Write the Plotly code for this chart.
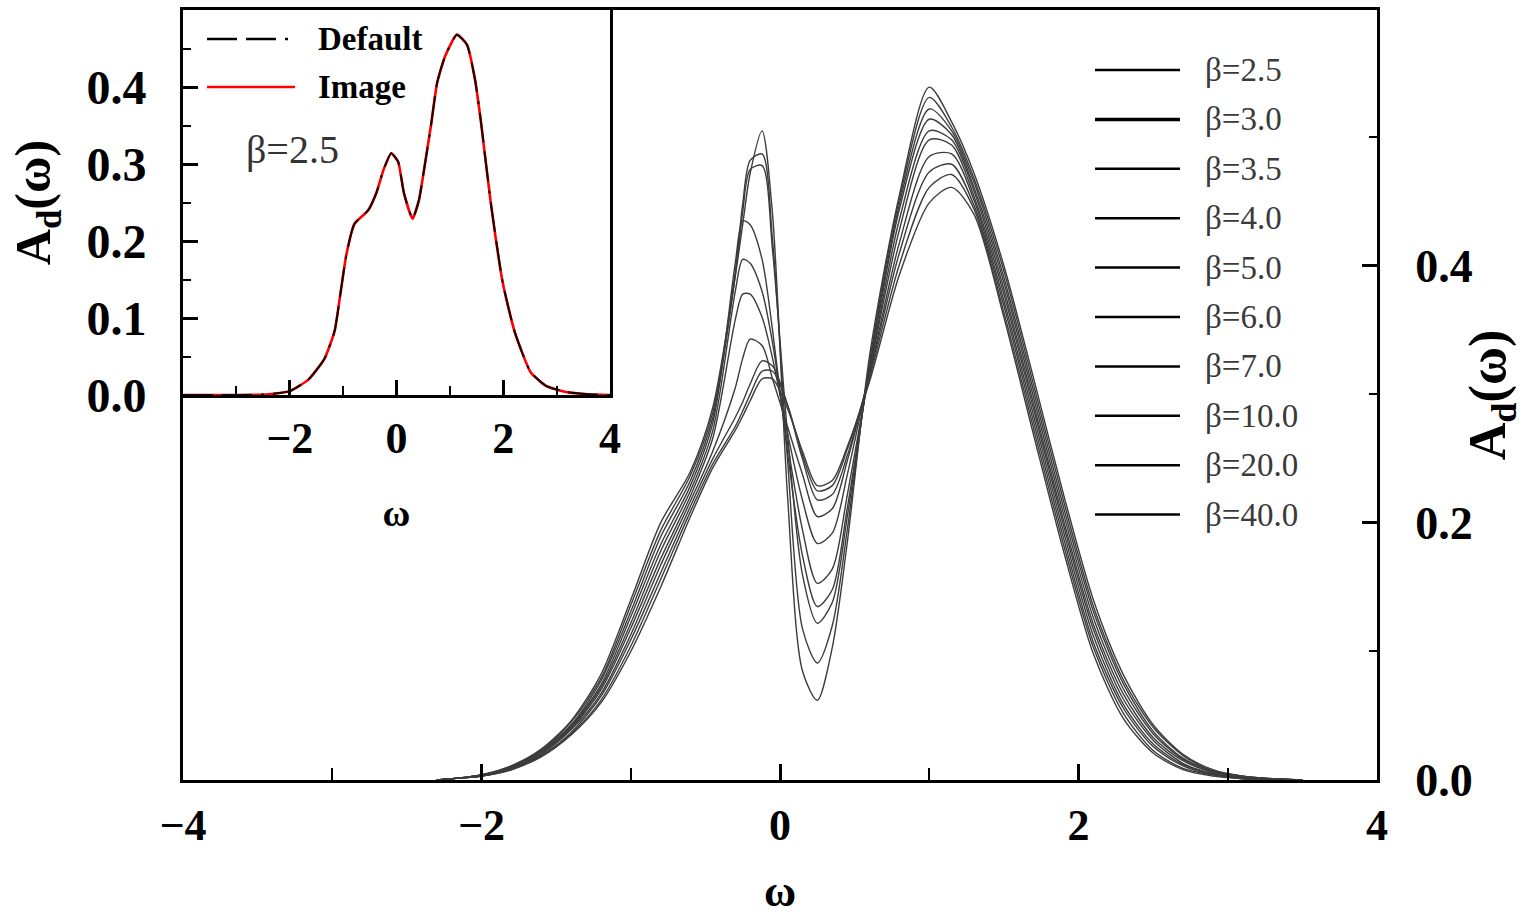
import plotly.graph_objects as go

# ---------------- data ----------------
omega = [-2.3, -2.2, -2.0, -1.8, -1.6, -1.4, -1.2, -1.0, -0.8, -0.6, -0.45, -0.3, -0.25, -0.2,
         -0.12, -0.05, 0.05, 0.15, 0.25, 0.35, 0.45, 0.6, 0.8, 1.0, 1.15, 1.3, 1.5, 1.7, 1.9,
         2.1, 2.3, 2.5, 2.7, 2.9, 3.1, 3.3, 3.5]

beta_labels = ["β=2.5", "β=3.0", "β=3.5", "β=4.0", "β=5.0", "β=6.0", "β=7.0",
               "β=10.0", "β=20.0", "β=40.0"]

A_b2_5 = [0.000, 0.001, 0.003, 0.008, 0.018, 0.035, 0.060, 0.100, 0.150, 0.205, 0.243, 0.272, 0.283, 0.295,
          0.312, 0.312, 0.289, 0.256, 0.229, 0.233, 0.259, 0.310, 0.393, 0.449, 0.461, 0.440, 0.360, 0.268, 0.178,
          0.098, 0.048, 0.021, 0.008, 0.003, 0.001, 0.000, 0.000]
A_b3_0 = [0.000, 0.001, 0.003, 0.008, 0.019, 0.036, 0.062, 0.104, 0.156, 0.209, 0.246, 0.275, 0.287, 0.300,
          0.318, 0.318, 0.292, 0.253, 0.225, 0.229, 0.257, 0.313, 0.401, 0.461, 0.471, 0.444, 0.364, 0.273, 0.183,
          0.103, 0.052, 0.023, 0.009, 0.004, 0.001, 0.000, 0.000]
A_b3_5 = [0.000, 0.001, 0.003, 0.009, 0.019, 0.037, 0.065, 0.109, 0.161, 0.213, 0.250, 0.282, 0.294, 0.308,
          0.326, 0.322, 0.292, 0.250, 0.218, 0.222, 0.252, 0.315, 0.410, 0.473, 0.479, 0.447, 0.369, 0.278, 0.188,
          0.107, 0.056, 0.026, 0.011, 0.004, 0.001, 0.000, 0.000]
A_b4_0 = [0.000, 0.001, 0.003, 0.009, 0.020, 0.039, 0.067, 0.113, 0.167, 0.217, 0.256, 0.305, 0.328, 0.343,
          0.338, 0.312, 0.275, 0.238, 0.205, 0.211, 0.248, 0.316, 0.418, 0.485, 0.487, 0.451, 0.373, 0.283, 0.193,
          0.112, 0.059, 0.028, 0.012, 0.005, 0.002, 0.000, 0.000]
A_b5_0 = [0.000, 0.001, 0.003, 0.009, 0.021, 0.040, 0.070, 0.118, 0.172, 0.221, 0.266, 0.358, 0.378, 0.378,
          0.360, 0.328, 0.270, 0.218, 0.184, 0.192, 0.237, 0.318, 0.428, 0.498, 0.494, 0.454, 0.378, 0.288, 0.198,
          0.117, 0.063, 0.031, 0.013, 0.005, 0.002, 0.000, 0.000]
A_b6_0 = [0.000, 0.001, 0.004, 0.010, 0.021, 0.041, 0.072, 0.122, 0.178, 0.225, 0.272, 0.380, 0.405, 0.402,
          0.380, 0.340, 0.262, 0.195, 0.153, 0.164, 0.221, 0.318, 0.436, 0.505, 0.498, 0.458, 0.382, 0.292, 0.202,
          0.121, 0.067, 0.033, 0.015, 0.006, 0.002, 0.001, 0.000]
A_b7_0 = [0.000, 0.001, 0.004, 0.010, 0.022, 0.042, 0.074, 0.127, 0.183, 0.229, 0.278, 0.402, 0.435, 0.432,
          0.405, 0.350, 0.255, 0.175, 0.135, 0.148, 0.211, 0.320, 0.444, 0.514, 0.502, 0.461, 0.387, 0.297, 0.207,
          0.126, 0.071, 0.036, 0.016, 0.006, 0.002, 0.001, 0.000]
A_b10_0 = [0.000, 0.001, 0.004, 0.010, 0.023, 0.043, 0.077, 0.131, 0.189, 0.233, 0.282, 0.392, 0.442, 0.475,
           0.478, 0.412, 0.270, 0.160, 0.122, 0.138, 0.204, 0.322, 0.448, 0.522, 0.505, 0.465, 0.391, 0.302, 0.212,
           0.131, 0.075, 0.038, 0.017, 0.007, 0.003, 0.001, 0.000]
A_b20_0 = [0.000, 0.001, 0.004, 0.011, 0.023, 0.045, 0.079, 0.136, 0.194, 0.237, 0.286, 0.395, 0.448, 0.482,
           0.487, 0.420, 0.250, 0.118, 0.091, 0.120, 0.194, 0.325, 0.452, 0.531, 0.508, 0.468, 0.396, 0.307, 0.217,
           0.135, 0.078, 0.041, 0.019, 0.007, 0.003, 0.001, 0.000]
A_b40_0 = [0.000, 0.001, 0.004, 0.011, 0.024, 0.046, 0.082, 0.140, 0.200, 0.240, 0.290, 0.392, 0.432, 0.472,
           0.505, 0.440, 0.222, 0.085, 0.062, 0.103, 0.184, 0.330, 0.455, 0.539, 0.512, 0.472, 0.400, 0.312, 0.222,
           0.140, 0.082, 0.043, 0.020, 0.008, 0.003, 0.001, 0.000]

main_series = [A_b2_5, A_b3_0, A_b3_5, A_b4_0, A_b5_0, A_b6_0, A_b7_0, A_b10_0, A_b20_0, A_b40_0]

# inset: beta = 2.5, Default model vs Image
inset_omega = [-4.0, -3.0, -2.4, -2.0, -1.65, -1.35, -1.16, -1.05, -0.94, -0.79, -0.53, -0.38, -0.24,
               -0.10, 0.03, 0.14, 0.30, 0.42, 0.54, 0.65, 0.76, 0.91, 1.13, 1.32, 1.47, 1.58, 1.76,
               1.99, 2.21, 2.51, 2.80, 3.17, 3.6, 4.0]
inset_default = [0.0, 0.0, 0.001, 0.005, 0.020, 0.047, 0.083, 0.132, 0.182, 0.222, 0.240, 0.262, 0.293,
                 0.314, 0.303, 0.262, 0.229, 0.253, 0.303, 0.352, 0.405, 0.440, 0.468, 0.455, 0.410, 0.356,
                 0.253, 0.146, 0.083, 0.030, 0.012, 0.004, 0.001, 0.0]
inset_image = list(inset_default)

main_xticks = [-4, -2, 0, 2, 4]
main_xticktext = ["−4", "−2", "0", "2", "4"]
main_yticks = [0.0, 0.2, 0.4]
inset_xticks = [-2, 0, 2, 4]
inset_xticktext = ["−2", "0", "2", "4"]
inset_yticks = [0.0, 0.1, 0.2, 0.3, 0.4]

# ---------------- figure ----------------
SERIF = "Liberation Serif, Times New Roman, serif"
W, H = 1524, 916
L, R, T, B = 183, 147, 10, 136
PW, PH = W - L - R, H - T - B
DEFAULT_DASH = "30px,9px,30px,9px,3px,9px"


def px_x(px):
    return (px - L) / PW


def px_y(py):
    return (H - B - py) / PH


fig = go.Figure()

for name, ys in zip(beta_labels, main_series):
    fig.add_trace(go.Scatter(x=omega, y=ys, mode="lines", name=name, showlegend=False,
                             line=dict(color="#3c3c3c", width=1.4, shape="spline", smoothing=0.8),
                             xaxis="x", yaxis="y"))

fig.add_trace(go.Scatter(x=inset_omega, y=inset_image, mode="lines", name="Image", showlegend=False,
                         line=dict(color="#ff0000", width=2.6, shape="spline", smoothing=0.5),
                         xaxis="x2", yaxis="y2"))
fig.add_trace(go.Scatter(x=inset_omega, y=inset_default, mode="lines", name="Default", showlegend=False,
                         line=dict(color="#1a0000", width=2.0, dash=DEFAULT_DASH, shape="spline", smoothing=0.5),
                         xaxis="x2", yaxis="y2"))

axis_common = dict(showgrid=False, zeroline=False, showline=True, linecolor="black", linewidth=3,
                   mirror=True, ticks="inside", tickcolor="black", tickwidth=2.5, automargin=False)

fig.update_layout(
    width=W, height=H,
    margin=dict(l=L, r=R, t=T, b=B, autoexpand=False),
    paper_bgcolor="white", plot_bgcolor="white",
    font=dict(family=SERIF, color="black"),
    xaxis=dict(**axis_common, domain=[0, 1], range=[-4, 4], tickvals=main_xticks,
               ticktext=main_xticktext, ticklen=16, anchor="y",
               tickfont=dict(size=44, family=SERIF, weight="bold"), ticklabelstandoff=4,
               minor=dict(dtick=1, tick0=-4, ticks="inside", ticklen=12, tickwidth=2, tickcolor="black"),
               title=dict(text="<b>ω</b>", font=dict(size=44, family=SERIF), standoff=38)),
    yaxis=dict(**axis_common, domain=[0, 1], range=[0, 0.599], side="right", anchor="x",
               tickvals=main_yticks, tickformat=".1f", ticklen=15,
               tickfont=dict(size=46, family=SERIF, weight="bold"), ticklabelstandoff=26,
               minor=dict(dtick=0.1, tick0=0, ticks="inside", ticklen=8, tickwidth=2, tickcolor="black"),
               title=dict(text="<b>A<sub>d</sub>(ω)</b>", font=dict(size=52, family=SERIF), standoff=2)),
    xaxis2=dict(**axis_common, domain=[0, px_x(610)], range=[-4, 4], anchor="y2",
                tickvals=inset_xticks, ticktext=inset_xticktext, ticklen=15,
                tickfont=dict(size=44, family=SERIF, weight="bold"), ticklabelstandoff=2,
                minor=dict(dtick=1, tick0=-4, ticks="inside", ticklen=9, tickwidth=2, tickcolor="black"),
                title=dict(text="<b>ω</b>", font=dict(size=38, family=SERIF), standoff=38)),
    yaxis2=dict(**axis_common, domain=[px_y(395), 1], range=[0, 0.5], anchor="x2",
                tickvals=inset_yticks, tickformat=".1f", ticklen=15,
                tickfont=dict(size=48, family=SERIF, weight="bold"), ticklabelstandoff=24,
                minor=dict(dtick=0.05, tick0=0, ticks="inside", ticklen=8, tickwidth=2, tickcolor="black"),
                title=dict(text="<b>A<sub>d</sub>(ω)</b>", font=dict(size=50, family=SERIF), standoff=20)),
)

shapes = []
annotations = []

# main legend (drawn manually: long line samples)
leg_x0, leg_x1, leg_tx = px_x(1095), px_x(1180), px_x(1203)
for i, name in enumerate(beta_labels):
    yy = px_y(70 + 49.4 * i)
    shapes.append(dict(type="line", xref="paper", yref="paper", x0=leg_x0, x1=leg_x1, y0=yy, y1=yy,
                       line=dict(color="black", width=3.5 if i == 1 else 2.5)))
    annotations.append(dict(text=name, xref="paper", yref="paper", x=leg_tx, y=yy, xanchor="left",
                            yanchor="middle", showarrow=False,
                            font=dict(size=33, family=SERIF, color="#3a3a3a")))

# inset legend
in_x0, in_x1, in_tx = px_x(207), px_x(295), px_x(316)
for yy_px, label, col, dash in [(39, "Default", "black", DEFAULT_DASH), (87, "Image", "#ff0000", "solid")]:
    yy = px_y(yy_px)
    shapes.append(dict(type="line", xref="paper", yref="paper", x0=in_x0, x1=in_x1, y0=yy, y1=yy,
                       line=dict(color=col, width=2.6, dash=dash)))
    annotations.append(dict(text="<b>" + label + "</b>", xref="paper", yref="paper", x=in_tx, y=yy,
                            xanchor="left", yanchor="middle", showarrow=False,
                            font=dict(size=33, family=SERIF, color="black")))

annotations.append(dict(text="β=2.5", xref="paper", yref="paper", x=px_x(292), y=px_y(150),
                        xanchor="center", yanchor="middle", showarrow=False,
                        font=dict(size=40, family=SERIF, color="#333333")))

fig.update_layout(shapes=shapes, annotations=annotations)

fig.write_html("out.html")
